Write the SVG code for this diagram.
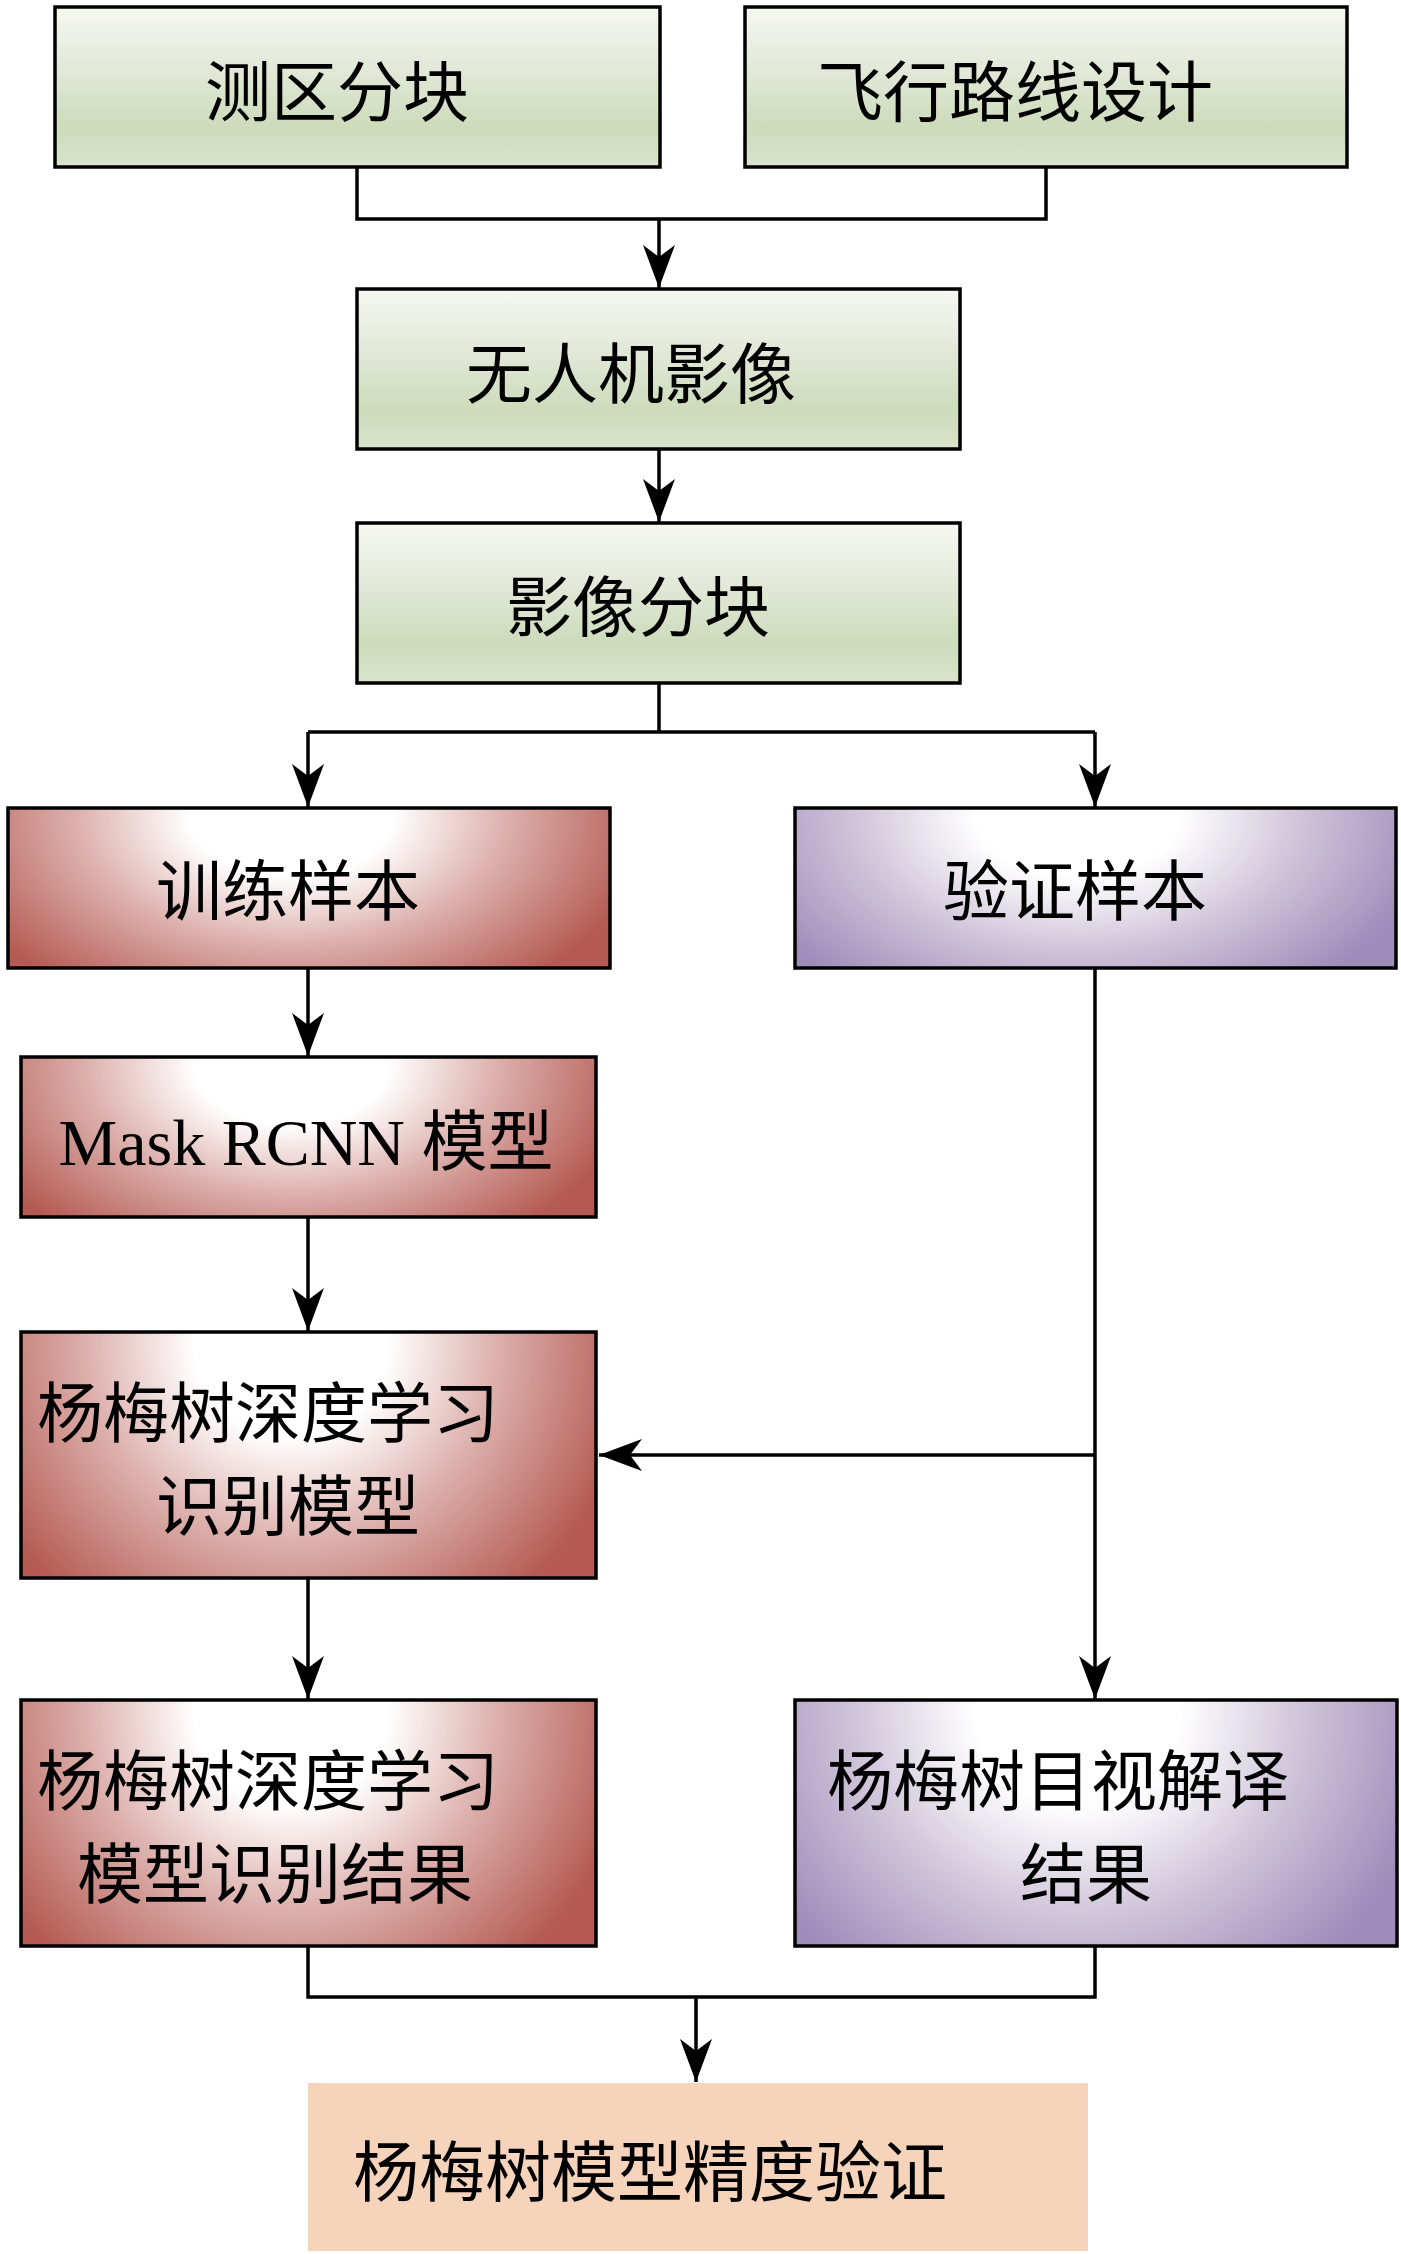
<svg xmlns="http://www.w3.org/2000/svg" width="1401" height="2254" viewBox="0 0 1401 2254">
  <defs>
    <linearGradient id="gGreen" x1="0" y1="0" x2="0" y2="1">
      <stop offset="0" stop-color="#f6f7f2"/>
      <stop offset="0.35" stop-color="#e4eadb"/>
      <stop offset="0.75" stop-color="#cddbbb"/>
      <stop offset="1" stop-color="#dae3cc"/>
    </linearGradient>
    <radialGradient id="gRed" cx="0.47" cy="0.05" r="1" gradientTransform="translate(0.47,0.05) scale(0.6,1.35) translate(-0.47,-0.05)">
      <stop offset="0" stop-color="#ffffff"/>
      <stop offset="0.28" stop-color="#ffffff"/>
      <stop offset="0.6" stop-color="#dcafab"/>
      <stop offset="1" stop-color="#b45a52"/>
    </radialGradient>
    <radialGradient id="gPurple" cx="0.47" cy="0.05" r="1" gradientTransform="translate(0.47,0.05) scale(0.6,1.35) translate(-0.47,-0.05)">
      <stop offset="0" stop-color="#ffffff"/>
      <stop offset="0.28" stop-color="#ffffff"/>
      <stop offset="0.6" stop-color="#d2c7db"/>
      <stop offset="1" stop-color="#9f8cba"/>
    </radialGradient>
    <marker id="arrow" markerUnits="userSpaceOnUse" viewBox="-46 -20 48 40" refX="0" refY="0" markerWidth="48" markerHeight="40" orient="auto">
      <path d="M0,0 L-43,-16 L-31,0 L-43,16 Z" fill="#000"/>
    </marker>
  </defs>
  <style>
    .box { stroke: #000; stroke-width: 3.5; }
    .green { fill: url(#gGreen); }
    .red { fill: url(#gRed); }
    .purple { fill: url(#gPurple); }
    .peach { fill: #f6d3bb; }
    .t { font-family: "Noto Sans CJK SC", sans-serif; font-size: 66px; fill: #000; text-anchor: middle; }
    .latin { font-family: "Liberation Serif", "Noto Sans CJK SC", serif; }
    .conn { fill: none; stroke: #000; stroke-width: 3.5; }
    .arr { marker-end: url(#arrow); }
  </style>
  <rect width="1401" height="2254" fill="#fff"/>

  <g id="connectors">
    <path class="conn" d="M357,167 V219 H1046 V167"/>
    <path class="conn arr" d="M659,219 V288"/>
    <path class="conn arr" d="M659,449 V522"/>
    <path class="conn" d="M659,683 V732"/>
    <path class="conn" d="M308,732 H1095"/>
    <path class="conn arr" d="M308,732 V807"/>
    <path class="conn arr" d="M1095,732 V807"/>
    <path class="conn arr" d="M308,968 V1056"/>
    <path class="conn arr" d="M308,1217 V1331"/>
    <path class="conn arr" d="M1095,968 V1699"/>
    <path class="conn arr" d="M1095,1455 H599"/>
    <path class="conn arr" d="M308,1578 V1699"/>
    <path class="conn" d="M308,1946 V1997 H1095 V1946"/>
    <path class="conn arr" d="M696,1997 V2082"/>
  </g>

  <g id="node-survey-block">
    <rect class="box green" x="55" y="7" width="605" height="160"/>
    <text class="t" x="337" y="116">测区分块</text>
  </g>
  <g id="node-flight-route">
    <rect class="box green" x="745" y="7" width="602" height="160"/>
    <text class="t" x="1015" y="116">飞行路线设计</text>
  </g>
  <g id="node-uav-image">
    <rect class="box green" x="357" y="289" width="603" height="160"/>
    <text class="t" x="631" y="398">无人机影像</text>
  </g>
  <g id="node-image-block">
    <rect class="box green" x="357" y="523" width="603" height="160"/>
    <text class="t" x="638" y="631">影像分块</text>
  </g>
  <g id="node-train-sample">
    <rect class="box red" x="8" y="808" width="602" height="160"/>
    <text class="t" x="288" y="915">训练样本</text>
  </g>
  <g id="node-verify-sample">
    <rect class="box purple" x="795" y="808" width="601" height="160"/>
    <text class="t" x="1075" y="915">验证样本</text>
  </g>
  <g id="node-mask-rcnn">
    <rect class="box red" x="21" y="1057" width="575" height="160"/>
    <text class="t latin" x="306" y="1165">Mask RCNN 模型</text>
  </g>
  <g id="node-dl-model">
    <rect class="box red" x="21" y="1332" width="575" height="246"/>
    <text class="t" x="268" y="1437">杨梅树深度学习</text>
    <text class="t" x="288" y="1530">识别模型</text>
  </g>
  <g id="node-dl-result">
    <rect class="box red" x="21" y="1700" width="575" height="246"/>
    <text class="t" x="268" y="1805">杨梅树深度学习</text>
    <text class="t" x="275" y="1898">模型识别结果</text>
  </g>
  <g id="node-visual-result">
    <rect class="box purple" x="795" y="1700" width="602" height="246"/>
    <text class="t" x="1058" y="1805">杨梅树目视解译</text>
    <text class="t" x="1086" y="1898">结果</text>
  </g>
  <g id="node-accuracy">
    <rect class="peach" x="308" y="2083" width="780" height="168"/>
    <text class="t" x="650" y="2196">杨梅树模型精度验证</text>
  </g>
</svg>
